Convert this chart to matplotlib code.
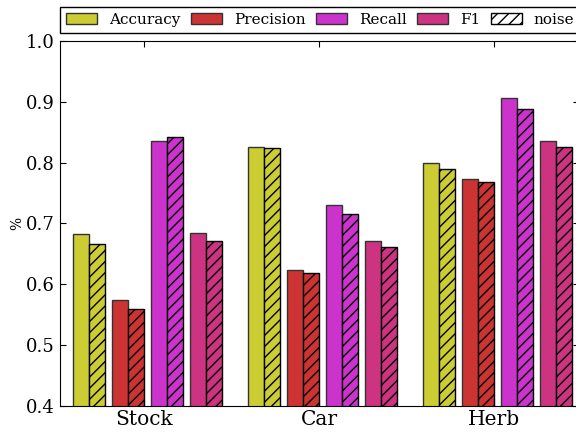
import matplotlib
matplotlib.use("Agg")
import matplotlib.pyplot as plt
import numpy as np
from matplotlib.patches import Patch

# datos
datasets = ["Stock", "Car", "Herb"]
metrics = ["Accuracy", "Precision", "Recall", "F1"]
clean = [
    [0.682, 0.574, 0.836, 0.684],   # Stock
    [0.826, 0.624, 0.730, 0.672],   # Car
    [0.799, 0.773, 0.907, 0.835],   # Herb
]
noise = [
    [0.666, 0.559, 0.843, 0.671],
    [0.824, 0.618, 0.715, 0.662],
    [0.789, 0.769, 0.889, 0.825],
]
colors = ["#cccc33", "#cc3333", "#cc33cc", "#cc3380"]

plt.rcParams["font.family"] = "DejaVu Serif"

fig = plt.figure(figsize=(5.76, 4.32), dpi=100)
ax = fig.add_axes([60 / 576, 26 / 432, 519 / 576, 365 / 432])

w = 0.0914
step = 0.2217
x = np.arange(len(datasets))
for k, m in enumerate(metrics):
    c_vals = [row[k] for row in clean]
    n_vals = [row[k] for row in noise]
    ax.bar(x + k * step, c_vals, w, align="edge", color=colors[k],
           edgecolor="#333333", linewidth=1.0)
    ax.bar(x + k * step + w, n_vals, w, align="edge", color=colors[k],
           edgecolor="black", linewidth=1.0, hatch="///")

ax.set_ylim(0.4, 1.0)
ax.set_xlim(-0.076, 2.89)
ax.set_yticks(np.arange(0.4, 1.01, 0.1))
ax.set_yticklabels(["%.1f" % v for v in np.arange(0.4, 1.01, 0.1)])
ax.set_xticks(x + 0.406)
ax.set_xticklabels(datasets)
ax.tick_params(axis="both", direction="in", top=True, right=True,
               pad=4, length=4)
ax.tick_params(axis="y", labelsize=13)
ax.tick_params(axis="x", labelsize=14.5, pad=3)
ax.set_ylabel("%", fontsize=10, labelpad=1)

handles = [Patch(facecolor=c, edgecolor="#333333", label=m) for c, m in zip(colors, metrics)]
handles.append(Patch(facecolor="white", edgecolor="black", hatch="///", label="noise"))
leg = fig.legend(handles=handles, loc="upper left", bbox_to_anchor=(60 / 576, 1 - 7 / 432),
                 ncol=5, fontsize=11, handlelength=2.0, handletextpad=0.8,
                 columnspacing=0.7, borderaxespad=0, fancybox=False, framealpha=1)
leg.get_frame().set_edgecolor("black")

fig.savefig("out.png", dpi=100)
